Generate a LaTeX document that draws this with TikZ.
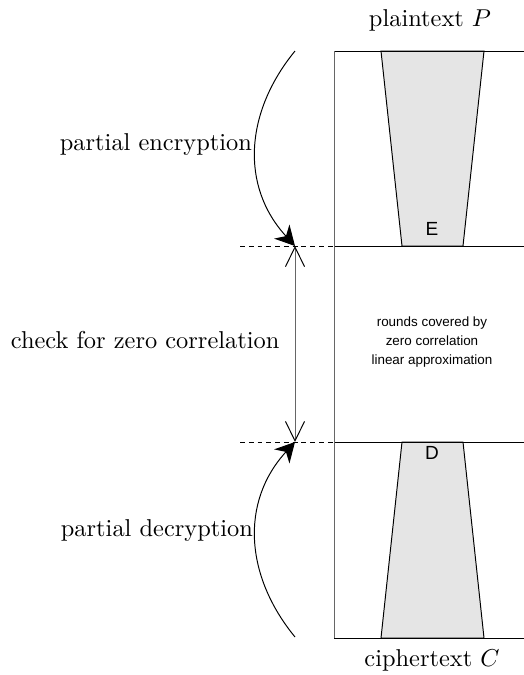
\documentclass[tikz,border=0pt]{standalone}
\usepackage{fontspec}
\newfontfamily\helv{Liberation Sans}
\usetikzlibrary{arrows.meta}

\begin{document}
\begin{tikzpicture}[x=0.41pt, y=-0.41pt,
  keyround/.style={draw=black, line width=0.4pt, fill=black!10},
  guide/.style={dash pattern=on 2pt off 1.6pt},
  bigtip/.style={-{Stealth[length=8pt,width=8.5pt,inset=2.5pt]}},
  barbs/.style={{Straight Barb[length=8pt,width=7.8pt,color=black]}-{Straight Barb[length=8pt,width=7.8pt,color=black]}},
  sidelabel/.style={left, inner sep=1.5pt},
  letter/.style={font=\helv\fontsize{7.8}{9}\selectfont},
  tinytext/.style={font=\helv\fontsize{5.5}{7.8}\selectfont, align=center}]
\useasboundingbox (0,0) rectangle (524,675);

% key recovery rounds
\filldraw[keyround] (381,51) -- (484,51) -- (463,246) -- (402,246) -- cycle;
\filldraw[keyround] (402,442) -- (463,442) -- (484,638) -- (381,638) -- cycle;

\coordinate (topleft) at (334,51);
\coordinate (botleft) at (334,638);
\coordinate (boxupper) at (334,246);
\coordinate (boxlower) at (334,442);
\draw (topleft) -- (524,51);
\draw (boxupper) -- (524,246);
\draw (boxlower) -- (524,442);
\draw (botleft) -- (524,638);
\draw[black!60] (topleft) -- (botleft);

\node (pt) at (430,20) {plaintext $P$};
\node (ct) at (432,660) {ciphertext $C$};
\node[letter] (enc) at (432,229) {E};
\node[letter] (dec) at (432,453) {D};
\node[tinytext] (zc) at (432,342) {rounds covered by\\zero correlation\\linear approximation};

% left side
\coordinate (encstart) at (295,51);
\coordinate (upper) at (295,246);
\coordinate (lower) at (295,442);
\coordinate (decstart) at (295,637);
\coordinate (upperend) at (240,246);
\coordinate (lowerend) at (240,442);

\draw[guide] (upperend) -- (boxupper);
\draw[guide] (lowerend) -- (boxlower);

\draw[bigtip] (encstart) .. controls (245,112) and (240,186) .. (upper);
\draw[bigtip] (decstart) .. controls (245,576) and (240,502) .. (lower);
\draw[black!60, barbs] (upper) -- (lower);

\node[sidelabel] (enclabel) at (256,145) {partial encryption};
\node[sidelabel] (declabel) at (257,531) {partial decryption};
\node[left] (chk) at (288,340) {check for zero correlation};
\end{tikzpicture}
\end{document}
